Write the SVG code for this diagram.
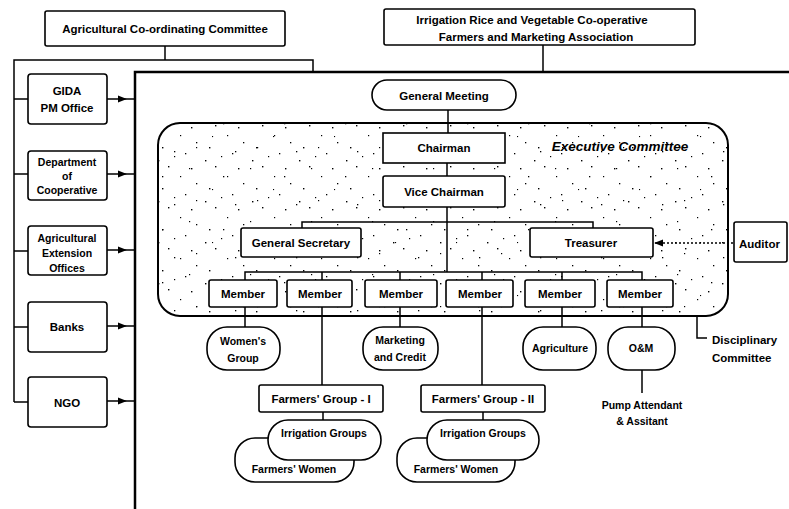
<svg xmlns="http://www.w3.org/2000/svg" width="789" height="509" viewBox="0 0 789 509">
  <defs>
    <style>
      .box{fill:#fff;stroke:#000;stroke-width:1.6}
      .ln{fill:none;stroke:#000;stroke-width:1.5}
      .t{font-family:"Liberation Sans",Arial,sans-serif;font-size:11.5px;font-weight:bold;fill:#000;text-anchor:middle}
      .s{font-size:10.5px}
      .l{text-anchor:start}
      .dot{fill:#000}
    </style>
    <marker id="arr" viewBox="0 0 10 10" refX="9" refY="5" markerWidth="9" markerHeight="9" markerUnits="userSpaceOnUse" orient="auto">
      <path d="M0,1 L10,5 L0,9 Z" fill="#000"/>
    </marker>
    <!-- two offset dot tiles give the executive committee its stippled shading -->
    <pattern id="stipA" width="47" height="41" patternUnits="userSpaceOnUse">
      <g class="dot">
        <rect x="3" y="4" width="1.4" height="1.4"/><rect x="27" y="2" width="1.4" height="1.4"/>
        <rect x="39" y="12" width="1.2" height="1.2"/><rect x="21" y="24" width="1.4" height="1.4"/>
        <rect x="8" y="19" width="1.3" height="1.3"/><rect x="44" y="30" width="1.3" height="1.3"/>
        <rect x="17" y="37" width="1.4" height="1.4"/><rect x="33" y="33" width="1.2" height="1.2"/>
      </g>
    </pattern>
    <pattern id="stipB" width="61" height="53" patternUnits="userSpaceOnUse">
      <g class="dot">
        <rect x="6" y="9" width="1.2" height="1.2"/><rect x="40" y="17" width="1.3" height="1.3"/>
        <rect x="13" y="41" width="1.2" height="1.2"/><rect x="52" y="45" width="1.3" height="1.3"/>
        <rect x="29" y="30" width="1.1" height="1.1"/>
      </g>
    </pattern>
  </defs>

  <rect width="789" height="509" fill="#fff"/>

  <!-- executive committee panel (drawn first so boxes sit on top) -->
  <g id="executive-committee">
    <rect x="158" y="123" width="570" height="193" rx="22" fill="#fff"/>
    <rect x="158" y="123" width="570" height="193" rx="22" fill="url(#stipA)"/>
    <rect x="158" y="123" width="570" height="193" rx="22" fill="url(#stipB)" stroke="#000" stroke-width="2"/>
    <text class="t" x="620" y="151" style="font-style:italic;font-size:13.5px">Executive Committee</text>
  </g>

  <g id="connectors">
    <!-- association frame -->
    <path d="M135,509 V72 H789" fill="none" stroke="#000" stroke-width="2.5"/>
    <path class="ln" d="M165,46 V60"/>
    <path class="ln" d="M14,402 V60 H313 V72"/>
    <path class="ln" d="M543,45 V72"/>
    <path class="ln" d="M14,99 H28 M14,174 H28 M14,251 H28 M14,327 H28 M14,402 H28"/>
    <!-- support agencies into the association -->
    <path class="ln" d="M107,99 H126 H135" marker-mid="url(#arr)"/>
    <path class="ln" d="M107,174 H126 H135" marker-mid="url(#arr)"/>
    <path class="ln" d="M107,250 H126 H135" marker-mid="url(#arr)"/>
    <path class="ln" d="M107,326 H126 H135" marker-mid="url(#arr)"/>
    <path class="ln" d="M107,401 H126 H135" marker-mid="url(#arr)"/>
    <!-- executive hierarchy -->
    <path class="ln" d="M448,110 V133"/>
    <path class="ln" d="M447,163 V176"/>
    <path class="ln" d="M447,207 V272"/>
    <path class="ln" d="M302,228 V222 H593 V228"/>
    <path class="ln" d="M245,280 V272 H642 V280 M322,272 V280 M400,272 V280 M482,272 V280 M562,272 V280"/>
    <path class="ln" d="M733,243 H655" stroke-dasharray="2 2" marker-end="url(#arr)"/>
    <!-- members to groups -->
    <path class="ln" d="M245,307 V327 M322,307 V385 M400,307 V327 M482,307 V385 M562,307 V327 M642,307 V327"/>
    <path class="ln" d="M642,370 V393"/>
    <path class="ln" d="M697,316 V338 H707"/>
    <path class="ln" d="M323,412 V420 M483,412 V420"/>
  </g>

  <g id="agri-coordinating-committee">
    <rect class="box" x="45" y="11" width="240" height="35" rx="2"/>
    <text class="t" x="165" y="33">Agricultural Co-ordinating Committee</text>
  </g>
  <g id="cooperative-association">
    <rect class="box" x="384" y="9" width="311" height="36" rx="2"/>
    <text class="t" x="532" y="24">Irrigation Rice and Vegetable Co-operative</text>
    <text class="t" x="536" y="41">Farmers and Marketing Association</text>
  </g>

  <g id="gida">
    <rect class="box" x="28" y="74" width="79" height="50" rx="3"/>
    <text class="t" x="67" y="95">GIDA</text>
    <text class="t" x="67" y="112">PM Office</text>
  </g>
  <g id="dept-cooperative">
    <rect class="box" x="28" y="151" width="79" height="49" rx="3"/>
    <text class="t s" x="67" y="166">Department</text>
    <text class="t s" x="67" y="180">of</text>
    <text class="t s" x="67" y="194">Cooperative</text>
  </g>
  <g id="agri-extension">
    <rect class="box" x="28" y="226" width="79" height="49" rx="3"/>
    <text class="t s" x="67" y="242">Agricultural</text>
    <text class="t s" x="67" y="257">Extension</text>
    <text class="t s" x="67" y="272">Offices</text>
  </g>
  <g id="banks">
    <rect class="box" x="28" y="302" width="79" height="50" rx="3"/>
    <text class="t" x="67" y="331">Banks</text>
  </g>
  <g id="ngo">
    <rect class="box" x="28" y="377" width="79" height="50" rx="3"/>
    <text class="t" x="67" y="407">NGO</text>
  </g>

  <g id="general-meeting">
    <rect class="box" x="372" y="80" width="144" height="30" rx="15"/>
    <text class="t" x="444" y="100">General Meeting</text>
  </g>
  <g id="chairman">
    <rect class="box" x="383" y="133" width="122" height="30"/>
    <text class="t" x="444" y="152">Chairman</text>
  </g>
  <g id="vice-chairman">
    <rect class="box" x="383" y="176" width="122" height="31" rx="2"/>
    <text class="t" x="444" y="196">Vice Chairman</text>
  </g>
  <g id="general-secretary">
    <rect class="box" x="241" y="228" width="120" height="29" rx="2"/>
    <text class="t" x="301" y="247">General Secretary</text>
  </g>
  <g id="treasurer">
    <rect class="box" x="530" y="228" width="123" height="29" rx="2"/>
    <text class="t" x="591" y="247">Treasurer</text>
  </g>
  <g id="auditor">
    <rect class="box" x="734" y="222" width="53" height="40" rx="2"/>
    <text class="t l" x="739" y="248">Auditor</text>
  </g>

  <g id="member-1"><rect class="box" x="209" y="280" width="68" height="27" rx="2"/><text class="t" x="243" y="298">Member</text></g>
  <g id="member-2"><rect class="box" x="287" y="280" width="65" height="27" rx="2"/><text class="t" x="320" y="298">Member</text></g>
  <g id="member-3"><rect class="box" x="365" y="280" width="72" height="27" rx="2"/><text class="t" x="401" y="298">Member</text></g>
  <g id="member-4"><rect class="box" x="446" y="280" width="67" height="27" rx="2"/><text class="t" x="480" y="298">Member</text></g>
  <g id="member-5"><rect class="box" x="525" y="280" width="70" height="27" rx="2"/><text class="t" x="560" y="298">Member</text></g>
  <g id="member-6"><rect class="box" x="607" y="280" width="66" height="27" rx="2"/><text class="t" x="640" y="298">Member</text></g>

  <g id="womens-group">
    <rect class="box" x="207" y="327" width="73" height="43" rx="20"/>
    <text class="t s" x="243" y="345">Women's</text>
    <text class="t s" x="243" y="362">Group</text>
  </g>
  <g id="marketing-credit">
    <rect class="box" x="363" y="327" width="75" height="43" rx="20"/>
    <text class="t s" x="400" y="344">Marketing</text>
    <text class="t s" x="400" y="361">and Credit</text>
  </g>
  <g id="agriculture">
    <rect class="box" x="523" y="327" width="73" height="43" rx="20"/>
    <text class="t s" x="560" y="352">Agriculture</text>
  </g>
  <g id="om">
    <rect class="box" x="608" y="327" width="67" height="43" rx="20"/>
    <text class="t s" x="641" y="352">O&amp;M</text>
  </g>
  <g id="pump-attendant">
    <text class="t s" x="642" y="409">Pump Attendant</text>
    <text class="t s" x="642" y="425">&amp; Assitant</text>
  </g>
  <g id="disciplinary-committee">
    <text class="t l" x="712" y="344">Disciplinary</text>
    <text class="t l" x="712" y="362">Committee</text>
  </g>

  <g id="farmers-group-1">
    <rect class="box" x="259" y="385" width="124" height="27" rx="2"/>
    <text class="t" x="321" y="403">Farmers' Group - I</text>
  </g>
  <g id="farmers-women-1">
    <rect class="box" x="235" y="438" width="119" height="44" rx="20"/>
    <text class="t s" x="294" y="473">Farmers' Women</text>
  </g>
  <g id="irrigation-groups-1">
    <rect class="box" x="268" y="420" width="113" height="40" rx="20"/>
    <text class="t s" x="324" y="437">Irrigation Groups</text>
  </g>

  <g id="farmers-group-2">
    <rect class="box" x="421" y="385" width="124" height="27" rx="2"/>
    <text class="t" x="483" y="403">Farmers' Group - II</text>
  </g>
  <g id="farmers-women-2">
    <rect class="box" x="397" y="438" width="118" height="44" rx="20"/>
    <text class="t s" x="456" y="473">Farmers' Women</text>
  </g>
  <g id="irrigation-groups-2">
    <rect class="box" x="427" y="420" width="112" height="40" rx="20"/>
    <text class="t s" x="483" y="437">Irrigation Groups</text>
  </g>
</svg>
